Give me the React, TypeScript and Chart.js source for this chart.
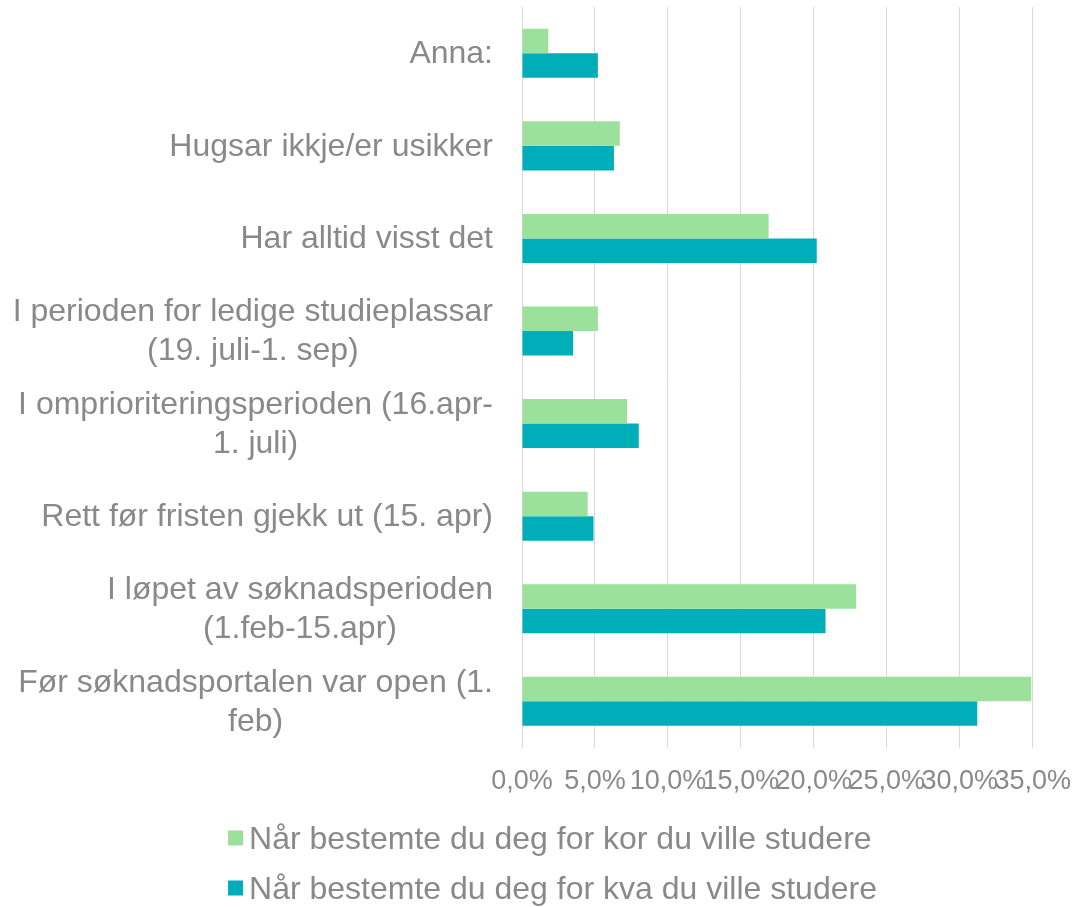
import React, { useEffect, useRef } from "react";
import { Chart, registerables } from "chart.js";

Chart.register(...registerables);

const categories: string[][] = [
  ["Anna:"],
  ["Hugsar ikkje/er usikker"],
  ["Har alltid visst det"],
  ["I perioden for ledige studieplassar", "(19. juli-1. sep)"],
  ["I omprioriteringsperioden (16.apr-", "1. juli)"],
  ["Rett før fristen gjekk ut (15. apr)"],
  ["I løpet av søknadsperioden", "(1.feb-15.apr)"],
  ["Før søknadsportalen var open (1.", "feb)"],
];

const seriesKorLabel = "Når bestemte du deg for kor du ville studere";
const seriesKvaLabel = "Når bestemte du deg for kva du ville studere";

const seriesKor: number[] = [1.8, 6.7, 16.9, 5.2, 7.2, 4.5, 22.9, 34.9];
const seriesKva: number[] = [5.2, 6.3, 20.2, 3.5, 8.0, 4.9, 20.8, 31.2];

const xTicks: number[] = [0, 5, 10, 15, 20, 25, 30, 35];

const FONT = '"Liberation Sans", Arial, sans-serif';
const TEXT = "#898989";

const categoryLabelPlugin = {
  id: "categoryLabels",
  afterDraw(chart: any) {
    const ctx = chart.ctx;
    const yScale = chart.scales.y;
    const rightEdge = chart.chartArea.left - 29;
    const lineH = 39;
    ctx.save();
    ctx.font = `32px ${FONT}`;
    ctx.fillStyle = TEXT;
    ctx.textAlign = "center";
    ctx.textBaseline = "middle";
    categories.forEach((lines, i) => {
      const y = yScale.getPixelForValue(i) + 1;
      const maxW = Math.max(...lines.map((l) => ctx.measureText(l).width));
      const cx = rightEdge - maxW / 2;
      lines.forEach((line, j) => {
        ctx.fillText(line, cx, y + (j - (lines.length - 1) / 2) * lineH);
      });
    });
    ctx.restore();
  },
};

const legendPlugin = {
  id: "customLegend",
  afterDraw(chart: any) {
    const ctx = chart.ctx;
    const datasets = chart.data.datasets;
    ctx.save();
    ctx.font = `32px ${FONT}`;
    ctx.textBaseline = "middle";
    ctx.textAlign = "left";
    const box = 15;
    const gap = 6;
    const widths = datasets.map((d: any) => box + gap + ctx.measureText(d.label).width);
    const blockW = Math.max(...widths);
    const left = (chart.width - blockW) / 2 + 16;
    const rowY = [838, 888];
    datasets.forEach((d: any, i: number) => {
      const y = rowY[i];
      ctx.fillStyle = d.backgroundColor;
      ctx.fillRect(left, y - box / 2, box, box);
      ctx.fillStyle = TEXT;
      ctx.fillText(d.label, left + box + gap, y + 2);
    });
    ctx.restore();
  },
};

export default function App() {
  const canvasRef = useRef<HTMLCanvasElement | null>(null);

  useEffect(() => {
    if (!canvasRef.current) return;
    const chart = new Chart(canvasRef.current, {
      type: "bar",
      data: {
        labels: categories.map((c) => c.join(" ")),
        datasets: [
          {
            label: seriesKorLabel,
            data: seriesKor,
            backgroundColor: "#9BE09B",
            categoryPercentage: 0.53,
            barPercentage: 1.0,
          },
          {
            label: seriesKvaLabel,
            data: seriesKva,
            backgroundColor: "#00AEB9",
            categoryPercentage: 0.53,
            barPercentage: 1.0,
          },
        ],
      },
      options: {
        indexAxis: "y",
        animation: false,
        responsive: true,
        maintainAspectRatio: false,
        layout: { padding: { left: 514, right: 39, top: 7, bottom: 107 } },
        scales: {
          x: {
            min: 0,
            max: 35,
            afterBuildTicks: (axis: any) => {
              axis.ticks = xTicks.map((v) => ({ value: v }));
            },
            grid: { color: "#D9D9D9", lineWidth: 1, drawTicks: true, tickLength: 16, tickColor: "rgba(0,0,0,0)" },
            border: { display: false },
            ticks: {
              autoSkip: false,
              maxRotation: 0,
              padding: 2,
              color: TEXT,
              font: { family: FONT, size: 27 },
              callback: (v: any) => Number(v).toFixed(1).replace(".", ",") + "%",
            },
          },
          y: {
            grid: { display: false },
            border: { display: false },
            ticks: { display: false },
          },
        },
        plugins: {
          legend: { display: false },
          tooltip: { enabled: false },
        },
      },
      plugins: [categoryLabelPlugin, legendPlugin],
    });
    return () => chart.destroy();
  }, []);

  return (
    <div style={{ position: "absolute", left: 0, top: 0, width: 1073, height: 907, background: "#fff" }}>
      <canvas ref={canvasRef} />
    </div>
  );
}
